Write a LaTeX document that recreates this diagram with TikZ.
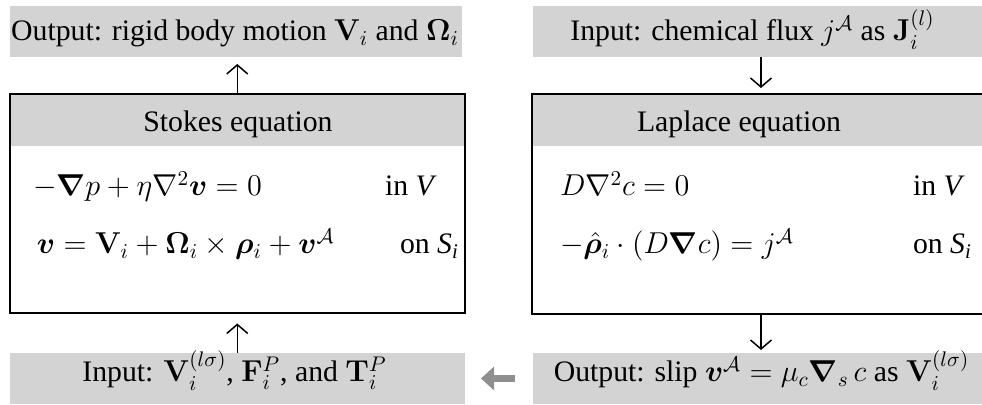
\RequirePackage{fix-cm}
\documentclass[tikz,border=0pt]{standalone}
\usepackage{amsmath}
\usepackage{bm}
\usepackage[no-math]{fontspec}
\setmainfont{Liberation Serif}[Scale=0.985]
\usetikzlibrary{arrows.meta}
\definecolor{boxgray}{RGB}{211,211,211}
\definecolor{arrgray}{RGB}{143,143,143}
\tikzset{
  every node/.style={font=\fontsize{15.1}{18}\selectfont, inner sep=0pt, outer sep=0pt},
  graybox/.style={fill=boxgray, draw=none, anchor=north west},
  eqbox/.style={draw=black, line width=1pt, fill=none, anchor=north west},
  txt/.style={anchor=base},
  eqn/.style={anchor=base west},
  flow/.style={line width=0.65pt, -{Straight Barb[length=4.5pt, width=10.5pt, line width=0.75pt]}},
  fat/.style={draw=arrgray, line width=3.8pt, -{Triangle[length=6.5pt,width=11.5pt]}}
}
\begin{document}
\begin{tikzpicture}[x=0.5pt,y=-0.5pt]
\useasboundingbox (0,0) rectangle (982,405);
% gray input/output boxes
\node[graybox, minimum width=226pt, minimum height=25.5pt] (outS) at (10,6) {};
\node[graybox, minimum width=228pt, minimum height=25.5pt] (inL) at (533,6) {};
\node[graybox, minimum width=227.5pt, minimum height=25.5pt] (inS) at (10,353) {};
\node[graybox, minimum width=228pt, minimum height=25.5pt] (outL) at (533,353) {};
% headers
\node[graybox, minimum width=227.75pt, minimum height=26pt] (stokesH) at (9.5,94) {};
\node[graybox, minimum width=229pt, minimum height=26pt] (laplaceH) at (532,94) {};
% framed boxes
\node[eqbox, minimum width=227.75pt, minimum height=109.75pt] (stokes) at (9.5,94) {};
\node[eqbox, minimum width=229pt, minimum height=110pt] (laplace) at (532,94) {};
% texts
\node[txt] (outStxt) at (235,41) {Output: rigid body motion $\mathbf{V}_i$ and $\bm{\Omega}_i$};
\node[txt] (inLtxt) at (752.5,41) {Input: chemical flux $j^{\mathcal{A}}$\ as\ $\mathbf{J}_i^{(l)}$};
\node[txt] (inStxt) at (234.5,382) {Input: $\mathbf{V}_i^{(l\sigma)}$, $\mathbf{F}_i^P$, and $\mathbf{T}_i^P$};
\node[txt] (outLtxt) at (761.5,382) {Output: slip $\bm{v}^{\mathcal{A}} = \mu_c \bm{\nabla}_s\, c$ as $\mathbf{V}_i^{(l\sigma)}$};
\node[txt] (stokesT) at (238,132) {Stokes equation};
\node[txt] (laplaceT) at (739,132) {Laplace equation};
% equations
\node[eqn] (s1) at (33,196) {$-\bm{\nabla} p + \eta \nabla^2 \bm{v} = 0$};
\node[eqn] (s1l) at (385,196) {in \textit{V}};
\node[eqn] (s2) at (37,254) {$\bm{v} = \mathbf{V}_i + \bm{\Omega}_i \times \bm{\rho}_i + \bm{v}^{\mathcal{A}}$};
\node[eqn] (s2l) at (400,254) {on \textit{S}$_{\textit{i}}$};
\node[eqn] (l1) at (560,196) {$D\nabla^2 c = 0$};
\node[eqn] (l1l) at (913,196) {in \textit{V}};
\node[eqn] (l2) at (560,254) {$-\hat{\bm{\rho}}_i \cdot (D\bm{\nabla} c) = j^{\mathcal{A}}$};
\node[eqn] (l2l) at (913,254) {on \textit{S}$_{\textit{i}}$};
% connectors
\draw[flow, shorten >=3.5pt] (stokes.north) -- (stokes.north |- outS.south);
\draw[flow, shorten >=5pt] (stokes.south |- inS.north) -- (stokes.south);
\draw[flow, shorten >=3pt] (laplace.north |- inL.south) -- (laplace.north);
\draw[flow, shorten >=1.5pt] (laplace.south) -- (laplace.south |- outL.north);
\draw[fat, shorten <=9pt, shorten >=8pt] (outL.west) -- (inS.east);
\end{tikzpicture}
\end{document}
